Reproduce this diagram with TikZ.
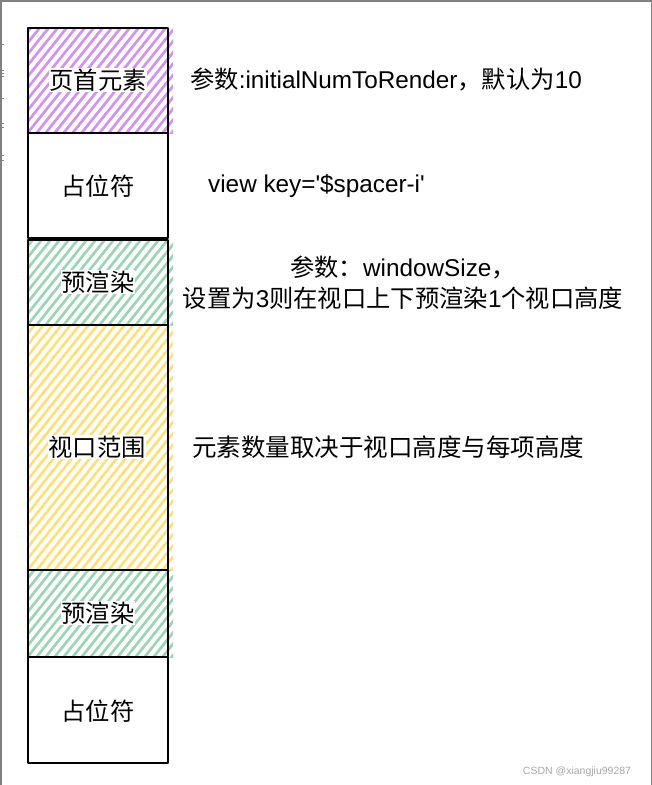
\documentclass[tikz,border=0pt]{standalone}
\usepackage{fontspec}
\newfontfamily\lat{Liberation Sans}
\newfontfamily\cjk{Noto Sans CJK SC}
\definecolor{hpurple}{RGB}{210,146,242}
\definecolor{hgreen}{RGB}{156,212,182}
\definecolor{hyellow}{RGB}{255,224,118}
\definecolor{framegray}{RGB}{128,128,128}
\newcommand\hatchbox[5]{%
  \begin{scope}
    \clip (#1,#2) rectangle (#3,#4);
    \foreach \s in {-300,-291,...,200}
      \draw[#5, line width=2.7pt, line cap=round] (#1+\s,#4+2) -- ++(240,-300);
  \end{scope}}
\begin{document}
\begin{tikzpicture}[x=1pt,y=-1pt,
  box/.style={draw=black, line width=1.9pt, line join=round},
  lbl/.style={fill=white, inner sep=0.8pt, font=\cjk\fontsize{24.3}{28}\selectfont},
  txt/.style={inner sep=0pt, font=\lat\fontsize{24.3}{29}\selectfont},
  tick/.style={draw=framegray, line width=1pt}]
\useasboundingbox (0,0) rectangle (652,785);
% frame
\draw[framegray, line width=1.5pt] (0.75,785) -- (0.75,0.75) -- (651.25,0.75) -- (651.25,785);
\foreach \yy in {44,70,73,76,98,123,127,155,160} \draw[tick] (0,\yy) -- (3.5,\yy);
% hatches
\hatchbox{29}{29}{173}{133}{hpurple}
\hatchbox{29}{240}{173}{325}{hgreen}
\hatchbox{29}{325}{173}{570}{hyellow}
\hatchbox{29}{570}{173}{657}{hgreen}
% boxes
\draw[box] (28,28) rectangle (168,133);
\draw[box] (28,133) rectangle (168,238);
\draw[box] (28,240) rectangle (168,325);
\draw[box] (28,325) rectangle (168,570);
\draw[box] (28,570) rectangle (168,657);
\draw[box] (28,657) rectangle (168,763);
% labels
\node[lbl] (l1) at (98,80) {页首元素};
\node[lbl] (l2) at (98,186) {占位符};
\node[lbl] (l3) at (98,282) {预渲染};
\node[lbl] (l4) at (97,447) {视口范围};
\node[lbl] (l5) at (98,613) {预渲染};
\node[lbl] (l6) at (98,711) {占位符};
% right texts
\node[txt, anchor=west] (t1) at (190,80) {{\cjk 参数}:initialNumToRender{\cjk ，默认为}10};
\node[txt, anchor=west] (t2) at (208,186) {view key='\$spacer-i'};
\node[txt] (t3) at (403,268) {{\cjk 参数：}windowSize{\cjk ，}};
\node[txt] (t4) at (403,298) {{\cjk 设置为}3{\cjk 则在视口上下预渲染}1{\cjk 个视口高度}};
\node[txt, anchor=west, font=\cjk\fontsize{24.5}{29}\selectfont] (t5) at (192,447) {元素数量取决于视口高度与每项高度};
\node[inner sep=0pt, text=black!35, font=\lat\fontsize{10.5}{12}\selectfont] (wm) at (577,772) {CSDN @xiangjiu99287};
\end{tikzpicture}
\end{document}
